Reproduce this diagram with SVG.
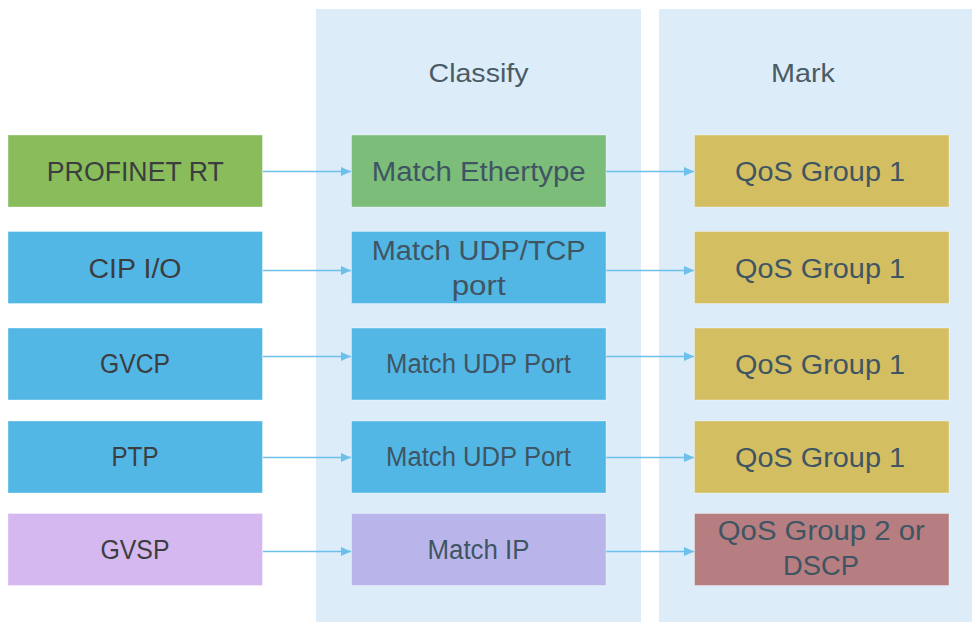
<svg xmlns="http://www.w3.org/2000/svg" width="972" height="622" viewBox="0 0 972 622">
<defs>
<style>
.panel{fill:#dcedf9}
.box{stroke:#ffffff;stroke-opacity:0.35;stroke-width:1}
.t{font-family:"Liberation Sans",Arial,sans-serif;font-size:27px;text-anchor:middle}
.src{fill:#3b3d3f}
.mid{fill:#3f5563}
.hd{fill:#4a5b66;font-size:26px}
.conn{stroke:#6cc0ea;stroke-width:1.6;fill:none;marker-end:url(#ah)}
</style>
<marker id="ah" markerWidth="10" markerHeight="10" refX="10" refY="4.5" orient="auto" markerUnits="userSpaceOnUse" viewBox="0 0 10 9">
<path d="M0,0 L10,4.5 L0,9 Z" fill="#6cc0ea"/>
</marker>
</defs>
<rect width="972" height="622" fill="#ffffff"/>
<g id="panel-classify">
<rect class="panel" x="316" y="9" width="325" height="613"/>
<text class="t hd" x="478.5" y="82" textLength="100" lengthAdjust="spacingAndGlyphs">Classify</text>
</g>
<g id="panel-mark">
<rect class="panel" x="659" y="9" width="313" height="613"/>
<text class="t hd" x="803" y="82" textLength="64" lengthAdjust="spacingAndGlyphs">Mark</text>
</g>
<g id="connectors">
<line class="conn" x1="263" y1="171.5" x2="351" y2="171.5"/>
<line class="conn" x1="606" y1="171.5" x2="694" y2="171.5"/>
<line class="conn" x1="263" y1="270.5" x2="351" y2="270.5"/>
<line class="conn" x1="606" y1="270.5" x2="694" y2="270.5"/>
<line class="conn" x1="263" y1="356.5" x2="351" y2="356.5"/>
<line class="conn" x1="606" y1="356.5" x2="694" y2="356.5"/>
<line class="conn" x1="263" y1="457.5" x2="351" y2="457.5"/>
<line class="conn" x1="606" y1="457.5" x2="694" y2="457.5"/>
<line class="conn" x1="263" y1="551.5" x2="351" y2="551.5"/>
<line class="conn" x1="606" y1="551.5" x2="694" y2="551.5"/>
</g>
<g id="src-profinet">
<rect class="box" x="8" y="135" width="254.5" height="72" fill="#89bd5b"/>
<text class="t src" x="135.3" y="181" textLength="177" lengthAdjust="spacingAndGlyphs">PROFINET RT</text>
</g>
<g id="src-cip">
<rect class="box" x="8" y="231.5" width="254.5" height="72" fill="#53b7e6"/>
<text class="t src" x="135" y="278" textLength="93" lengthAdjust="spacingAndGlyphs">CIP I/O</text>
</g>
<g id="src-gvcp">
<rect class="box" x="8" y="328" width="254.5" height="72" fill="#53b7e6"/>
<text class="t src" x="135" y="372.5" textLength="70" lengthAdjust="spacingAndGlyphs">GVCP</text>
</g>
<g id="src-ptp">
<rect class="box" x="8" y="421" width="254.5" height="72" fill="#53b7e6"/>
<text class="t src" x="135" y="466" textLength="47" lengthAdjust="spacingAndGlyphs">PTP</text>
</g>
<g id="src-gvsp">
<rect class="box" x="8" y="513.5" width="254.5" height="72" fill="#d4b8ef"/>
<text class="t src" x="135" y="559" textLength="69" lengthAdjust="spacingAndGlyphs">GVSP</text>
</g>
<g id="cls-ethertype">
<rect class="box" x="351.5" y="135" width="254.5" height="72" fill="#7dbd7a"/>
<text class="t mid" x="478.7" y="181" textLength="214" lengthAdjust="spacingAndGlyphs">Match Ethertype</text>
</g>
<g id="cls-udptcp">
<rect class="box" x="351.5" y="231.5" width="254.5" height="72" fill="#53b7e6"/>
<text class="t mid" x="478.7" y="259.5" textLength="214" lengthAdjust="spacingAndGlyphs">Match UDP/TCP</text>
<text class="t mid" x="478.7" y="295" textLength="54" lengthAdjust="spacingAndGlyphs">port</text>
</g>
<g id="cls-udp1">
<rect class="box" x="351.5" y="328" width="254.5" height="72" fill="#53b7e6"/>
<text class="t mid" x="478.5" y="372.5" textLength="185" lengthAdjust="spacingAndGlyphs">Match UDP Port</text>
</g>
<g id="cls-udp2">
<rect class="box" x="351.5" y="421" width="254.5" height="72" fill="#53b7e6"/>
<text class="t mid" x="478.5" y="466" textLength="185" lengthAdjust="spacingAndGlyphs">Match UDP Port</text>
</g>
<g id="cls-ip">
<rect class="box" x="351.5" y="513.5" width="254.5" height="72" fill="#b9b5ea"/>
<text class="t mid" x="478.5" y="559" textLength="102" lengthAdjust="spacingAndGlyphs">Match IP</text>
</g>
<g id="mark-1">
<rect class="box" x="694.5" y="135" width="254.5" height="72" fill="#d3be62"/>
<text class="t mid" x="820" y="181" textLength="170" lengthAdjust="spacingAndGlyphs">QoS Group 1</text>
</g>
<g id="mark-2">
<rect class="box" x="694.5" y="231.5" width="254.5" height="72" fill="#d3be62"/>
<text class="t mid" x="820" y="278" textLength="170" lengthAdjust="spacingAndGlyphs">QoS Group 1</text>
</g>
<g id="mark-3">
<rect class="box" x="694.5" y="328" width="254.5" height="72" fill="#d3be62"/>
<text class="t mid" x="820" y="374" textLength="170" lengthAdjust="spacingAndGlyphs">QoS Group 1</text>
</g>
<g id="mark-4">
<rect class="box" x="694.5" y="421" width="254.5" height="72" fill="#d3be62"/>
<text class="t mid" x="820" y="467" textLength="170" lengthAdjust="spacingAndGlyphs">QoS Group 1</text>
</g>
<g id="mark-5">
<rect class="box" x="694.5" y="513.5" width="254.5" height="72" fill="#b67e80"/>
<text class="t mid" x="821.3" y="539.5" textLength="207" lengthAdjust="spacingAndGlyphs">QoS Group 2 or</text>
<text class="t mid" x="821" y="575" textLength="76" lengthAdjust="spacingAndGlyphs">DSCP</text>
</g>
</svg>
